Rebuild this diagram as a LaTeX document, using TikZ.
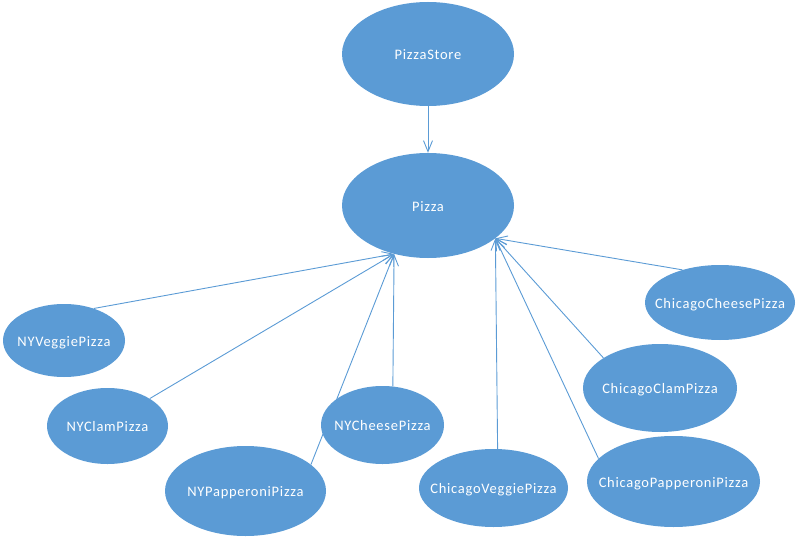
\documentclass[tikz,border=0pt]{standalone}
\usepackage{fontspec}
\setmainfont{Carlito}[LetterSpace=5]
\usetikzlibrary{shapes.geometric,arrows.meta}
\definecolor{officeblue}{HTML}{5B9BD5}
% label that takes no room, so the ellipse keeps its given size
\newcommand{\clsname}[1]{\smash{\makebox[0pt]{\raisebox{-0.8ex}{#1}}}}
\tikzset{
  cls/.style={ellipse, fill=officeblue, draw=none, inner sep=0pt,
    text=white, font=\fontsize{14.5}{16}\selectfont},
  link/.style={draw=officeblue, line width=0.9pt,
    -{Straight Barb[length=11pt,width=9pt,line width=0.9pt]}}
}
\begin{document}
\begin{tikzpicture}[x=1pt,y=1pt]
  \useasboundingbox (0,0) rectangle (797,539);
  % classes
  \node[cls, minimum width=172pt, minimum height=104pt] (store) at (428,485) {\clsname{PizzaStore}};
  \node[cls, minimum width=172pt, minimum height=105pt] (pizza) at (428,333.5) {\clsname{Pizza}};
  \node[cls, minimum width=122pt, minimum height=73pt] (nyveg) at (64,198.5) {\clsname{NYVeggiePizza}};
  \node[cls, minimum width=121pt, minimum height=76pt] (nyclam) at (107.5,113) {\clsname{NYClamPizza}};
  \node[cls, minimum width=161pt, minimum height=90pt] (nypap) at (245.5,48) {\clsname{NYPapperoniPizza}};
  \node[cls, minimum width=123pt, minimum height=78pt] (nych) at (382.5,114) {\clsname{NYCheesePizza}};
  \node[cls, minimum width=149pt, minimum height=78pt] (chveg) at (493.5,51) {\clsname{ChicagoVeggiePizza}};
  \node[cls, minimum width=150pt, minimum height=75pt] (chch) at (720,236.5) {\clsname{ChicagoCheesePizza}};
  \node[cls, minimum width=154pt, minimum height=88pt] (chclam) at (660,151) {\clsname{ChicagoClamPizza}};
  \node[cls, minimum width=173pt, minimum height=91pt] (chpap) at (673.5,57.5) {\clsname{ChicagoPapperoniPizza}};
  % links into Pizza
  \draw[link] (store.south) -- (pizza.north);
  \draw[link] (nyveg.47) -- (pizza.235);
  \draw[link] (nyclam.33) -- (pizza.235);
  \draw[link] (nypap.22) -- (pizza.235);
  \draw[link] (nych.75) -- (pizza.235);
  \draw[link] (chveg.84) -- (pizza.334);
  \draw[link] (chch.139) -- (pizza.334);
  \draw[link] (chclam.152) -- (pizza.334);
  \draw[link] (chpap.163) -- (pizza.334);
\end{tikzpicture}
\end{document}
